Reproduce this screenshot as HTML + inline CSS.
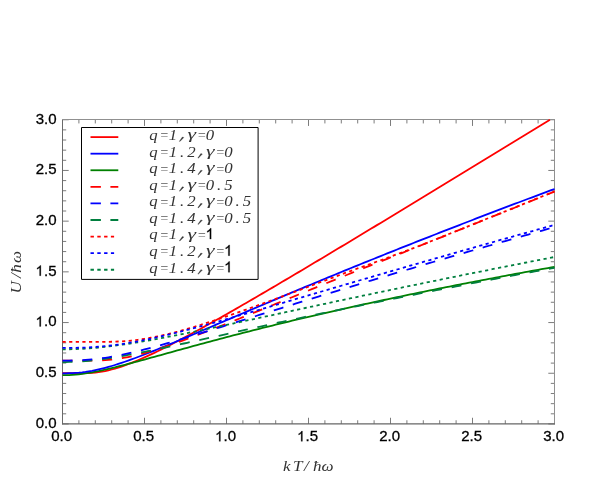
<!DOCTYPE html>
<html><head><meta charset="utf-8"><title>plot</title>
<style>html,body{margin:0;padding:0;background:#fff;}body{width:599px;height:484px;position:relative;overflow:hidden;font-family:"Liberation Sans",sans-serif;}</style>
</head><body>
<svg width="599" height="484" viewBox="0 0 599 484" style="position:absolute;left:0;top:0;will-change:transform">
<defs><clipPath id="c"><rect x="62.00" y="118.25" width="493.30" height="306.20"/></clipPath></defs>
<rect x="0" y="0" width="599" height="484" fill="#fff"/>
<path d="M62.50 423.95 v-6.20 M62.50 119.75 v6.20 M62.50 423.95 h6.20 M554.50 423.95 h-6.20 M78.90 423.95 v-3.70 M78.90 119.75 v3.70 M62.50 413.81 h3.70 M554.50 413.81 h-3.70 M95.30 423.95 v-3.70 M95.30 119.75 v3.70 M62.50 403.67 h3.70 M554.50 403.67 h-3.70 M111.70 423.95 v-3.70 M111.70 119.75 v3.70 M62.50 393.53 h3.70 M554.50 393.53 h-3.70 M128.10 423.95 v-3.70 M128.10 119.75 v3.70 M62.50 383.39 h3.70 M554.50 383.39 h-3.70 M144.50 423.95 v-6.20 M144.50 119.75 v6.20 M62.50 373.25 h6.20 M554.50 373.25 h-6.20 M160.90 423.95 v-3.70 M160.90 119.75 v3.70 M62.50 363.11 h3.70 M554.50 363.11 h-3.70 M177.30 423.95 v-3.70 M177.30 119.75 v3.70 M62.50 352.97 h3.70 M554.50 352.97 h-3.70 M193.70 423.95 v-3.70 M193.70 119.75 v3.70 M62.50 342.83 h3.70 M554.50 342.83 h-3.70 M210.10 423.95 v-3.70 M210.10 119.75 v3.70 M62.50 332.69 h3.70 M554.50 332.69 h-3.70 M226.50 423.95 v-6.20 M226.50 119.75 v6.20 M62.50 322.55 h6.20 M554.50 322.55 h-6.20 M242.90 423.95 v-3.70 M242.90 119.75 v3.70 M62.50 312.41 h3.70 M554.50 312.41 h-3.70 M259.30 423.95 v-3.70 M259.30 119.75 v3.70 M62.50 302.27 h3.70 M554.50 302.27 h-3.70 M275.70 423.95 v-3.70 M275.70 119.75 v3.70 M62.50 292.13 h3.70 M554.50 292.13 h-3.70 M292.10 423.95 v-3.70 M292.10 119.75 v3.70 M62.50 281.99 h3.70 M554.50 281.99 h-3.70 M308.50 423.95 v-6.20 M308.50 119.75 v6.20 M62.50 271.85 h6.20 M554.50 271.85 h-6.20 M324.90 423.95 v-3.70 M324.90 119.75 v3.70 M62.50 261.71 h3.70 M554.50 261.71 h-3.70 M341.30 423.95 v-3.70 M341.30 119.75 v3.70 M62.50 251.57 h3.70 M554.50 251.57 h-3.70 M357.70 423.95 v-3.70 M357.70 119.75 v3.70 M62.50 241.43 h3.70 M554.50 241.43 h-3.70 M374.10 423.95 v-3.70 M374.10 119.75 v3.70 M62.50 231.29 h3.70 M554.50 231.29 h-3.70 M390.50 423.95 v-6.20 M390.50 119.75 v6.20 M62.50 221.15 h6.20 M554.50 221.15 h-6.20 M406.90 423.95 v-3.70 M406.90 119.75 v3.70 M62.50 211.01 h3.70 M554.50 211.01 h-3.70 M423.30 423.95 v-3.70 M423.30 119.75 v3.70 M62.50 200.87 h3.70 M554.50 200.87 h-3.70 M439.70 423.95 v-3.70 M439.70 119.75 v3.70 M62.50 190.73 h3.70 M554.50 190.73 h-3.70 M456.10 423.95 v-3.70 M456.10 119.75 v3.70 M62.50 180.59 h3.70 M554.50 180.59 h-3.70 M472.50 423.95 v-6.20 M472.50 119.75 v6.20 M62.50 170.45 h6.20 M554.50 170.45 h-6.20 M488.90 423.95 v-3.70 M488.90 119.75 v3.70 M62.50 160.31 h3.70 M554.50 160.31 h-3.70 M505.30 423.95 v-3.70 M505.30 119.75 v3.70 M62.50 150.17 h3.70 M554.50 150.17 h-3.70 M521.70 423.95 v-3.70 M521.70 119.75 v3.70 M62.50 140.03 h3.70 M554.50 140.03 h-3.70 M538.10 423.95 v-3.70 M538.10 119.75 v3.70 M62.50 129.89 h3.70 M554.50 129.89 h-3.70 M554.50 423.95 v-6.20 M554.50 119.75 v6.20 M62.50 119.75 h6.20 M554.50 119.75 h-6.20" fill="none" stroke="#5a5a5a" stroke-width="0.8"/>
<path d="M62.5 119 V424.4" fill="none" stroke="#6a6a6a" stroke-width="1"/>
<path d="M554.5 119 V424.4" fill="none" stroke="#909090" stroke-width="1"/>
<path d="M62 119.5 H555" fill="none" stroke="#909090" stroke-width="1"/>
<path d="M62 423.93 H555" fill="none" stroke="#666" stroke-width="1.15"/>
<g clip-path="url(#c)" fill="none" stroke-width="1.8">
<path d="M62.50 373.25 L65.78 373.25 L69.06 373.25 L72.34 373.25 L75.62 373.25 L78.90 373.25 L82.18 373.23 L85.46 373.17 L88.74 373.05 L92.02 372.86 L95.30 372.56 L98.58 372.16 L101.86 371.65 L105.14 371.04 L108.42 370.32 L111.70 369.50 L114.98 368.59 L118.26 367.60 L121.54 366.53 L124.82 365.39 L128.10 364.18 L131.38 362.92 L134.66 361.60 L137.94 360.24 L141.22 358.83 L144.50 357.38 L147.78 355.89 L151.06 354.37 L154.34 352.82 L157.62 351.24 L160.90 349.64 L164.18 348.01 L167.46 346.36 L170.74 344.69 L174.02 343.00 L177.30 341.29 L180.58 339.57 L183.86 337.83 L187.14 336.08 L190.42 334.31 L193.70 332.53 L196.98 330.74 L200.26 328.94 L203.54 327.13 L206.82 325.32 L210.10 323.49 L213.38 321.65 L216.66 319.81 L219.94 317.96 L223.22 316.10 L226.50 314.24 L229.78 312.37 L233.06 310.49 L236.34 308.61 L239.62 306.72 L242.90 304.83 L246.18 302.94 L249.46 301.04 L252.74 299.13 L256.02 297.22 L259.30 295.31 L262.58 293.39 L265.86 291.47 L269.14 289.55 L272.42 287.62 L275.70 285.69 L278.98 283.76 L282.26 281.83 L285.54 279.89 L288.82 277.95 L292.10 276.00 L295.38 274.06 L298.66 272.11 L301.94 270.16 L305.22 268.21 L308.50 266.26 L311.78 264.30 L315.06 262.35 L318.34 260.39 L321.62 258.43 L324.90 256.46 L328.18 254.50 L331.46 252.53 L334.74 250.57 L338.02 248.60 L341.30 246.63 L344.58 244.66 L347.86 242.68 L351.14 240.71 L354.42 238.74 L357.70 236.76 L360.98 234.78 L364.26 232.80 L367.54 230.82 L370.82 228.84 L374.10 226.86 L377.38 224.88 L380.66 222.90 L383.94 220.91 L387.22 218.93 L390.50 216.94 L393.78 214.96 L397.06 212.97 L400.34 210.98 L403.62 208.99 L406.90 207.00 L410.18 205.01 L413.46 203.02 L416.74 201.03 L420.02 199.04 L423.30 197.04 L426.58 195.05 L429.86 193.05 L433.14 191.06 L436.42 189.06 L439.70 187.07 L442.98 185.07 L446.26 183.07 L449.54 181.08 L452.82 179.08 L456.10 177.08 L459.38 175.08 L462.66 173.08 L465.94 171.08 L469.22 169.08 L472.50 167.08 L475.78 165.08 L479.06 163.08 L482.34 161.07 L485.62 159.07 L488.90 157.07 L492.18 155.06 L495.46 153.06 L498.74 151.06 L502.02 149.05 L505.30 147.05 L508.58 145.04 L511.86 143.04 L515.14 141.03 L518.42 139.02 L521.70 137.02 L524.98 135.01 L528.26 133.00 L531.54 131.00 L534.82 128.99 L538.10 126.98 L541.38 124.97 L544.66 122.97 L547.94 120.96 L549.91 119.75" stroke="#ff0000"/>
<path d="M62.50 375.22 L65.78 375.18 L69.06 375.06 L72.34 374.86 L75.62 374.59 L78.90 374.24 L82.18 373.84 L85.46 373.37 L88.74 372.85 L92.02 372.28 L95.30 371.67 L98.58 371.01 L101.86 370.32 L105.14 369.60 L108.42 368.86 L111.70 368.08 L114.98 367.29 L118.26 366.48 L121.54 365.65 L124.82 364.80 L128.10 363.95 L131.38 363.08 L134.66 362.20 L137.94 361.32 L141.22 360.43 L144.50 359.54 L147.78 358.64 L151.06 357.73 L154.34 356.83 L157.62 355.92 L160.90 355.01 L164.18 354.10 L167.46 353.20 L170.74 352.29 L174.02 351.38 L177.30 350.47 L180.58 349.57 L183.86 348.67 L187.14 347.77 L190.42 346.87 L193.70 345.97 L196.98 345.08 L200.26 344.19 L203.54 343.31 L206.82 342.42 L210.10 341.54 L213.38 340.67 L216.66 339.79 L219.94 338.92 L223.22 338.06 L226.50 337.19 L229.78 336.34 L233.06 335.48 L236.34 334.63 L239.62 333.78 L242.90 332.94 L246.18 332.10 L249.46 331.26 L252.74 330.43 L256.02 329.60 L259.30 328.78 L262.58 327.95 L265.86 327.14 L269.14 326.32 L272.42 325.51 L275.70 324.71 L278.98 323.90 L282.26 323.11 L285.54 322.31 L288.82 321.52 L292.10 320.73 L295.38 319.95 L298.66 319.17 L301.94 318.39 L305.22 317.61 L308.50 316.84 L311.78 316.08 L315.06 315.31 L318.34 314.55 L321.62 313.80 L324.90 313.04 L328.18 312.29 L331.46 311.54 L334.74 310.80 L338.02 310.06 L341.30 309.32 L344.58 308.59 L347.86 307.85 L351.14 307.12 L354.42 306.40 L357.70 305.68 L360.98 304.96 L364.26 304.24 L367.54 303.52 L370.82 302.81 L374.10 302.10 L377.38 301.40 L380.66 300.70 L383.94 300.00 L387.22 299.30 L390.50 298.60 L393.78 297.91 L397.06 297.22 L400.34 296.53 L403.62 295.85 L406.90 295.17 L410.18 294.49 L413.46 293.81 L416.74 293.14 L420.02 292.47 L423.30 291.80 L426.58 291.13 L429.86 290.47 L433.14 289.81 L436.42 289.15 L439.70 288.49 L442.98 287.84 L446.26 287.19 L449.54 286.54 L452.82 285.89 L456.10 285.24 L459.38 284.60 L462.66 283.96 L465.94 283.32 L469.22 282.69 L472.50 282.05 L475.78 281.42 L479.06 280.79 L482.34 280.16 L485.62 279.54 L488.90 278.92 L492.18 278.30 L495.46 277.68 L498.74 277.06 L502.02 276.45 L505.30 275.83 L508.58 275.22 L511.86 274.61 L515.14 274.01 L518.42 273.40 L521.70 272.80 L524.98 272.20 L528.26 271.60 L531.54 271.00 L534.82 270.41 L538.10 269.82 L541.38 269.23 L544.66 268.64 L547.94 268.05 L551.22 267.46 L554.50 266.88" stroke="#008000"/>
<path d="M62.50 373.30 L65.78 373.28 L69.06 373.22 L72.34 373.11 L75.62 372.92 L78.90 372.67 L82.18 372.33 L85.46 371.91 L88.74 371.41 L92.02 370.84 L95.30 370.19 L98.58 369.47 L101.86 368.68 L105.14 367.84 L108.42 366.94 L111.70 365.99 L114.98 364.99 L118.26 363.95 L121.54 362.87 L124.82 361.75 L128.10 360.60 L131.38 359.43 L134.66 358.23 L137.94 357.00 L141.22 355.76 L144.50 354.49 L147.78 353.21 L151.06 351.91 L154.34 350.60 L157.62 349.28 L160.90 347.95 L164.18 346.60 L167.46 345.25 L170.74 343.89 L174.02 342.53 L177.30 341.15 L180.58 339.78 L183.86 338.39 L187.14 337.01 L190.42 335.62 L193.70 334.22 L196.98 332.83 L200.26 331.43 L203.54 330.03 L206.82 328.63 L210.10 327.23 L213.38 325.83 L216.66 324.43 L219.94 323.03 L223.22 321.63 L226.50 320.22 L229.78 318.82 L233.06 317.42 L236.34 316.02 L239.62 314.62 L242.90 313.22 L246.18 311.82 L249.46 310.43 L252.74 309.03 L256.02 307.64 L259.30 306.25 L262.58 304.86 L265.86 303.47 L269.14 302.08 L272.42 300.69 L275.70 299.31 L278.98 297.93 L282.26 296.55 L285.54 295.17 L288.82 293.79 L292.10 292.42 L295.38 291.04 L298.66 289.67 L301.94 288.31 L305.22 286.94 L308.50 285.57 L311.78 284.21 L315.06 282.85 L318.34 281.49 L321.62 280.14 L324.90 278.78 L328.18 277.43 L331.46 276.08 L334.74 274.73 L338.02 273.39 L341.30 272.04 L344.58 270.70 L347.86 269.36 L351.14 268.02 L354.42 266.69 L357.70 265.35 L360.98 264.02 L364.26 262.69 L367.54 261.37 L370.82 260.04 L374.10 258.72 L377.38 257.40 L380.66 256.08 L383.94 254.76 L387.22 253.45 L390.50 252.14 L393.78 250.83 L397.06 249.52 L400.34 248.21 L403.62 246.91 L406.90 245.61 L410.18 244.31 L413.46 243.01 L416.74 241.71 L420.02 240.42 L423.30 239.12 L426.58 237.83 L429.86 236.55 L433.14 235.26 L436.42 233.98 L439.70 232.69 L442.98 231.41 L446.26 230.13 L449.54 228.86 L452.82 227.58 L456.10 226.31 L459.38 225.04 L462.66 223.77 L465.94 222.50 L469.22 221.24 L472.50 219.97 L475.78 218.71 L479.06 217.45 L482.34 216.19 L485.62 214.94 L488.90 213.68 L492.18 212.43 L495.46 211.18 L498.74 209.93 L502.02 208.68 L505.30 207.44 L508.58 206.19 L511.86 204.95 L515.14 203.71 L518.42 202.47 L521.70 201.24 L524.98 200.00 L528.26 198.77 L531.54 197.54 L534.82 196.31 L538.10 195.08 L541.38 193.85 L544.66 192.63 L547.94 191.41 L551.22 190.19 L554.50 188.97" stroke="#0000ff"/>
<path d="M62.50 360.57 L65.78 360.57 L69.06 360.57 L72.34 360.57 L75.62 360.57 L78.90 360.57 L82.18 360.57 L85.46 360.57 L88.74 360.56 L92.02 360.54 L95.30 360.49 L98.58 360.41 L101.86 360.28 L105.14 360.10 L108.42 359.86 L111.70 359.55 L114.98 359.18 L118.26 358.74 L121.54 358.23 L124.82 357.66 L128.10 357.03 L131.38 356.33 L134.66 355.59 L137.94 354.79 L141.22 353.94 L144.50 353.06 L147.78 352.13 L151.06 351.16 L154.34 350.17 L157.62 349.14 L160.90 348.09 L164.18 347.00 L167.46 345.90 L170.74 344.78 L174.02 343.63 L177.30 342.47 L180.58 341.29 L183.86 340.10 L187.14 338.90 L190.42 337.68 L193.70 336.45 L196.98 335.21 L200.26 333.96 L203.54 332.71 L206.82 331.44 L210.10 330.17 L213.38 328.89 L216.66 327.61 L219.94 326.32 L223.22 325.02 L226.50 323.73 L229.78 322.42 L233.06 321.11 L236.34 319.80 L239.62 318.49 L242.90 317.17 L246.18 315.85 L249.46 314.53 L252.74 313.21 L256.02 311.88 L259.30 310.55 L262.58 309.22 L265.86 307.89 L269.14 306.56 L272.42 305.23 L275.70 303.89 L278.98 302.56 L282.26 301.22 L285.54 299.88 L288.82 298.55 L292.10 297.21 L295.38 295.87 L298.66 294.53 L301.94 293.19 L305.22 291.85 L308.50 290.51 L311.78 289.17 L315.06 287.83 L318.34 286.49 L321.62 285.15 L324.90 283.81 L328.18 282.47 L331.46 281.14 L334.74 279.81 L338.02 278.48 L341.30 277.15 L344.58 275.83 L347.86 274.51 L351.14 273.19 L354.42 271.88 L357.70 270.57 L360.98 269.26 L364.26 267.95 L367.54 266.64 L370.82 265.33 L374.10 264.03 L377.38 262.72 L380.66 261.42 L383.94 260.12 L387.22 258.81 L390.50 257.51 L393.78 256.21 L397.06 254.91 L400.34 253.61 L403.62 252.30 L406.90 251.00 L410.18 249.69 L413.46 248.39 L416.74 247.08 L420.02 245.77 L423.30 244.46 L426.58 243.15 L429.86 241.84 L433.14 240.52 L436.42 239.20 L439.70 237.88 L442.98 236.56 L446.26 235.24 L449.54 233.92 L452.82 232.59 L456.10 231.27 L459.38 229.95 L462.66 228.63 L465.94 227.31 L469.22 225.99 L472.50 224.67 L475.78 223.35 L479.06 222.02 L482.34 220.70 L485.62 219.38 L488.90 218.06 L492.18 216.74 L495.46 215.42 L498.74 214.10 L502.02 212.77 L505.30 211.45 L508.58 210.13 L511.86 208.81 L515.14 207.49 L518.42 206.16 L521.70 204.84 L524.98 203.52 L528.26 202.19 L531.54 200.87 L534.82 199.54 L538.10 198.22 L541.38 196.89 L544.66 195.57 L547.94 194.24 L551.22 192.92 L554.50 191.59" stroke="#ff0000" stroke-dasharray="10 9.83"/>
<path d="M62.50 362.05 L65.78 362.03 L69.06 361.97 L72.34 361.86 L75.62 361.71 L78.90 361.53 L82.18 361.30 L85.46 361.03 L88.74 360.73 L92.02 360.39 L95.30 360.02 L98.58 359.62 L101.86 359.20 L105.14 358.74 L108.42 358.27 L111.70 357.76 L114.98 357.24 L118.26 356.70 L121.54 356.14 L124.82 355.57 L128.10 354.97 L131.38 354.37 L134.66 353.75 L137.94 353.12 L141.22 352.48 L144.50 351.83 L147.78 351.16 L151.06 350.50 L154.34 349.82 L157.62 349.14 L160.90 348.45 L164.18 347.75 L167.46 347.05 L170.74 346.35 L174.02 345.64 L177.30 344.93 L180.58 344.22 L183.86 343.50 L187.14 342.78 L190.42 342.06 L193.70 341.33 L196.98 340.61 L200.26 339.88 L203.54 339.15 L206.82 338.42 L210.10 337.70 L213.38 336.97 L216.66 336.24 L219.94 335.51 L223.22 334.78 L226.50 334.05 L229.78 333.32 L233.06 332.59 L236.34 331.86 L239.62 331.13 L242.90 330.40 L246.18 329.68 L249.46 328.95 L252.74 328.22 L256.02 327.50 L259.30 326.78 L262.58 326.06 L265.86 325.34 L269.14 324.62 L272.42 323.91 L275.70 323.19 L278.98 322.48 L282.26 321.78 L285.54 321.07 L288.82 320.37 L292.10 319.67 L295.38 318.97 L298.66 318.27 L301.94 317.58 L305.22 316.89 L308.50 316.20 L311.78 315.51 L315.06 314.82 L318.34 314.13 L321.62 313.45 L324.90 312.77 L328.18 312.09 L331.46 311.41 L334.74 310.73 L338.02 310.06 L341.30 309.38 L344.58 308.71 L347.86 308.03 L351.14 307.36 L354.42 306.69 L357.70 306.02 L360.98 305.36 L364.26 304.69 L367.54 304.02 L370.82 303.36 L374.10 302.69 L377.38 302.03 L380.66 301.36 L383.94 300.70 L387.22 300.04 L390.50 299.37 L393.78 298.71 L397.06 298.05 L400.34 297.39 L403.62 296.73 L406.90 296.08 L410.18 295.42 L413.46 294.77 L416.74 294.11 L420.02 293.46 L423.30 292.81 L426.58 292.16 L429.86 291.52 L433.14 290.87 L436.42 290.23 L439.70 289.58 L442.98 288.94 L446.26 288.30 L449.54 287.66 L452.82 287.02 L456.10 286.38 L459.38 285.75 L462.66 285.11 L465.94 284.48 L469.22 283.85 L472.50 283.21 L475.78 282.58 L479.06 281.95 L482.34 281.33 L485.62 280.70 L488.90 280.07 L492.18 279.45 L495.46 278.82 L498.74 278.20 L502.02 277.58 L505.30 276.96 L508.58 276.34 L511.86 275.72 L515.14 275.11 L518.42 274.49 L521.70 273.87 L524.98 273.26 L528.26 272.65 L531.54 272.03 L534.82 271.42 L538.10 270.81 L541.38 270.20 L544.66 269.59 L547.94 268.99 L551.22 268.38 L554.50 267.77" stroke="#007f3f" stroke-dasharray="10 9.83"/>
<path d="M62.50 360.60 L65.78 360.60 L69.06 360.57 L72.34 360.52 L75.62 360.44 L78.90 360.32 L82.18 360.16 L85.46 359.96 L88.74 359.71 L92.02 359.42 L95.30 359.08 L98.58 358.69 L101.86 358.26 L105.14 357.79 L108.42 357.27 L111.70 356.72 L114.98 356.12 L118.26 355.50 L121.54 354.84 L124.82 354.14 L128.10 353.42 L131.38 352.68 L134.66 351.90 L137.94 351.11 L141.22 350.29 L144.50 349.45 L147.78 348.60 L151.06 347.73 L154.34 346.84 L157.62 345.94 L160.90 345.03 L164.18 344.10 L167.46 343.16 L170.74 342.22 L174.02 341.26 L177.30 340.30 L180.58 339.32 L183.86 338.35 L187.14 337.36 L190.42 336.37 L193.70 335.38 L196.98 334.38 L200.26 333.37 L203.54 332.37 L206.82 331.36 L210.10 330.34 L213.38 329.33 L216.66 328.31 L219.94 327.29 L223.22 326.27 L226.50 325.24 L229.78 324.22 L233.06 323.19 L236.34 322.17 L239.62 321.14 L242.90 320.11 L246.18 319.09 L249.46 318.06 L252.74 317.03 L256.02 316.00 L259.30 314.98 L262.58 313.95 L265.86 312.92 L269.14 311.90 L272.42 310.87 L275.70 309.85 L278.98 308.82 L282.26 307.80 L285.54 306.78 L288.82 305.75 L292.10 304.73 L295.38 303.71 L298.66 302.69 L301.94 301.68 L305.22 300.66 L308.50 299.64 L311.78 298.63 L315.06 297.62 L318.34 296.60 L321.62 295.59 L324.90 294.58 L328.18 293.57 L331.46 292.57 L334.74 291.56 L338.02 290.55 L341.30 289.55 L344.58 288.55 L347.86 287.55 L351.14 286.55 L354.42 285.55 L357.70 284.55 L360.98 283.56 L364.26 282.56 L367.54 281.57 L370.82 280.58 L374.10 279.59 L377.38 278.60 L380.66 277.61 L383.94 276.63 L387.22 275.64 L390.50 274.66 L393.78 273.68 L397.06 272.70 L400.34 271.72 L403.62 270.74 L406.90 269.76 L410.18 268.79 L413.46 267.81 L416.74 266.84 L420.02 265.87 L423.30 264.90 L426.58 263.93 L429.86 262.96 L433.14 262.00 L436.42 261.03 L439.70 260.07 L442.98 259.10 L446.26 258.14 L449.54 257.18 L452.82 256.22 L456.10 255.27 L459.38 254.31 L462.66 253.36 L465.94 252.40 L469.22 251.45 L472.50 250.50 L475.78 249.55 L479.06 248.60 L482.34 247.65 L485.62 246.71 L488.90 245.76 L492.18 244.82 L495.46 243.87 L498.74 242.93 L502.02 241.99 L505.30 241.05 L508.58 240.11 L511.86 239.18 L515.14 238.24 L518.42 237.31 L521.70 236.37 L524.98 235.44 L528.26 234.51 L531.54 233.58 L534.82 232.65 L538.10 231.72 L541.38 230.79 L544.66 229.87 L547.94 228.94 L551.22 228.02 L554.50 227.10" stroke="#0000ff" stroke-dasharray="10 9.83"/>
<path d="M62.50 341.92 L65.78 341.92 L69.06 341.92 L72.34 341.92 L75.62 341.92 L78.90 341.92 L82.18 341.92 L85.46 341.92 L88.74 341.92 L92.02 341.91 L95.30 341.91 L98.58 341.90 L101.86 341.88 L105.14 341.85 L108.42 341.80 L111.70 341.73 L114.98 341.63 L118.26 341.49 L121.54 341.32 L124.82 341.10 L128.10 340.84 L131.38 340.54 L134.66 340.18 L137.94 339.78 L141.22 339.33 L144.50 338.84 L147.78 338.30 L151.06 337.71 L154.34 337.09 L157.62 336.42 L160.90 335.72 L164.18 334.98 L167.46 334.20 L170.74 333.40 L174.02 332.56 L177.30 331.70 L180.58 330.80 L183.86 329.89 L187.14 328.95 L190.42 327.99 L193.70 327.01 L196.98 326.01 L200.26 325.00 L203.54 323.97 L206.82 322.92 L210.10 321.86 L213.38 320.79 L216.66 319.70 L219.94 318.61 L223.22 317.50 L226.50 316.39 L229.78 315.26 L233.06 314.13 L236.34 312.99 L239.62 311.84 L242.90 310.69 L246.18 309.53 L249.46 308.36 L252.74 307.19 L256.02 306.01 L259.30 304.83 L262.58 303.64 L265.86 302.45 L269.14 301.26 L272.42 300.06 L275.70 298.86 L278.98 297.65 L282.26 296.44 L285.54 295.23 L288.82 294.02 L292.10 292.81 L295.38 291.59 L298.66 290.37 L301.94 289.15 L305.22 287.92 L308.50 286.70 L311.78 285.47 L315.06 284.24 L318.34 283.02 L321.62 281.78 L324.90 280.55 L328.18 279.32 L331.46 278.09 L334.74 276.87 L338.02 275.64 L341.30 274.42 L344.58 273.20 L347.86 272.00 L351.14 270.81 L354.42 269.62 L357.70 268.44 L360.98 267.27 L364.26 266.10 L367.54 264.93 L370.82 263.75 L374.10 262.58 L377.38 261.41 L380.66 260.23 L383.94 259.04 L387.22 257.85 L390.50 256.66 L393.78 255.46 L397.06 254.24 L400.34 253.03 L403.62 251.80 L406.90 250.56 L410.18 249.32 L413.46 248.07 L416.74 246.80 L420.02 245.53 L423.30 244.25 L426.58 242.97 L429.86 241.67 L433.14 240.37 L436.42 239.05 L439.70 237.74 L442.98 236.42 L446.26 235.09 L449.54 233.77 L452.82 232.44 L456.10 231.12 L459.38 229.80 L462.66 228.48 L465.94 227.16 L469.22 225.84 L472.50 224.51 L475.78 223.19 L479.06 221.87 L482.34 220.55 L485.62 219.23 L488.90 217.91 L492.18 216.59 L495.46 215.27 L498.74 213.94 L502.02 212.62 L505.30 211.30 L508.58 209.98 L511.86 208.66 L515.14 207.33 L518.42 206.01 L521.70 204.69 L524.98 203.36 L528.26 202.04 L531.54 200.72 L534.82 199.39 L538.10 198.07 L541.38 196.74 L544.66 195.42 L547.94 194.09 L551.22 192.76 L554.50 191.44" stroke="#ff0000" stroke-dasharray="3.2 3.42"/>
<path d="M62.50 349.31 L65.78 349.29 L69.06 349.25 L72.34 349.17 L75.62 349.07 L78.90 348.93 L82.18 348.76 L85.46 348.57 L88.74 348.35 L92.02 348.09 L95.30 347.82 L98.58 347.51 L101.86 347.18 L105.14 346.83 L108.42 346.46 L111.70 346.06 L114.98 345.65 L118.26 345.21 L121.54 344.76 L124.82 344.29 L128.10 343.80 L131.38 343.29 L134.66 342.78 L137.94 342.24 L141.22 341.70 L144.50 341.14 L147.78 340.58 L151.06 340.00 L154.34 339.41 L157.62 338.81 L160.90 338.20 L164.18 337.59 L167.46 336.96 L170.74 336.33 L174.02 335.70 L177.30 335.06 L180.58 334.41 L183.86 333.75 L187.14 333.09 L190.42 332.43 L193.70 331.76 L196.98 331.09 L200.26 330.41 L203.54 329.74 L206.82 329.05 L210.10 328.37 L213.38 327.68 L216.66 326.99 L219.94 326.30 L223.22 325.60 L226.50 324.91 L229.78 324.21 L233.06 323.51 L236.34 322.81 L239.62 322.11 L242.90 321.41 L246.18 320.71 L249.46 320.00 L252.74 319.30 L256.02 318.59 L259.30 317.89 L262.58 317.18 L265.86 316.47 L269.14 315.77 L272.42 315.06 L275.70 314.35 L278.98 313.65 L282.26 312.94 L285.54 312.23 L288.82 311.53 L292.10 310.82 L295.38 310.12 L298.66 309.41 L301.94 308.71 L305.22 308.00 L308.50 307.30 L311.78 306.60 L315.06 305.89 L318.34 305.19 L321.62 304.49 L324.90 303.79 L328.18 303.09 L331.46 302.39 L334.74 301.69 L338.02 300.99 L341.30 300.30 L344.58 299.60 L347.86 298.91 L351.14 298.21 L354.42 297.52 L357.70 296.82 L360.98 296.13 L364.26 295.44 L367.54 294.75 L370.82 294.06 L374.10 293.37 L377.38 292.69 L380.66 292.00 L383.94 291.31 L387.22 290.63 L390.50 289.95 L393.78 289.26 L397.06 288.58 L400.34 287.90 L403.62 287.22 L406.90 286.54 L410.18 285.87 L413.46 285.19 L416.74 284.51 L420.02 283.84 L423.30 283.16 L426.58 282.49 L429.86 281.82 L433.14 281.15 L436.42 280.48 L439.70 279.81 L442.98 279.14 L446.26 278.47 L449.54 277.81 L452.82 277.14 L456.10 276.48 L459.38 275.81 L462.66 275.15 L465.94 274.49 L469.22 273.83 L472.50 273.17 L475.78 272.51 L479.06 271.85 L482.34 271.20 L485.62 270.54 L488.90 269.89 L492.18 269.23 L495.46 268.58 L498.74 267.93 L502.02 267.28 L505.30 266.63 L508.58 265.98 L511.86 265.33 L515.14 264.68 L518.42 264.04 L521.70 263.39 L524.98 262.75 L528.26 262.10 L531.54 261.46 L534.82 260.82 L538.10 260.18 L541.38 259.54 L544.66 258.90 L547.94 258.26 L551.22 257.62 L554.50 256.99" stroke="#007f3f" stroke-dasharray="3.2 3.42"/>
<path d="M62.50 347.92 L65.78 347.92 L69.06 347.90 L72.34 347.88 L75.62 347.83 L78.90 347.76 L82.18 347.66 L85.46 347.54 L88.74 347.39 L92.02 347.21 L95.30 346.99 L98.58 346.74 L101.86 346.46 L105.14 346.14 L108.42 345.79 L111.70 345.41 L114.98 344.99 L118.26 344.55 L121.54 344.07 L124.82 343.56 L128.10 343.03 L131.38 342.47 L134.66 341.88 L137.94 341.27 L141.22 340.63 L144.50 339.98 L147.78 339.30 L151.06 338.60 L154.34 337.88 L157.62 337.15 L160.90 336.40 L164.18 335.64 L167.46 334.86 L170.74 334.06 L174.02 333.25 L177.30 332.44 L180.58 331.61 L183.86 330.77 L187.14 329.92 L190.42 329.06 L193.70 328.19 L196.98 327.31 L200.26 326.43 L203.54 325.54 L206.82 324.65 L210.10 323.74 L213.38 322.84 L216.66 321.92 L219.94 321.01 L223.22 320.08 L226.50 319.16 L229.78 318.23 L233.06 317.30 L236.34 316.36 L239.62 315.42 L242.90 314.48 L246.18 313.54 L249.46 312.59 L252.74 311.64 L256.02 310.69 L259.30 309.74 L262.58 308.79 L265.86 307.83 L269.14 306.88 L272.42 305.92 L275.70 304.96 L278.98 304.00 L282.26 303.04 L285.54 302.08 L288.82 301.12 L292.10 300.16 L295.38 299.20 L298.66 298.24 L301.94 297.28 L305.22 296.31 L308.50 295.35 L311.78 294.39 L315.06 293.43 L318.34 292.46 L321.62 291.50 L324.90 290.54 L328.18 289.58 L331.46 288.62 L334.74 287.66 L338.02 286.70 L341.30 285.74 L344.58 284.78 L347.86 283.82 L351.14 282.86 L354.42 281.90 L357.70 280.94 L360.98 279.99 L364.26 279.03 L367.54 278.08 L370.82 277.12 L374.10 276.17 L377.38 275.21 L380.66 274.26 L383.94 273.31 L387.22 272.35 L390.50 271.40 L393.78 270.45 L397.06 269.50 L400.34 268.55 L403.62 267.61 L406.90 266.66 L410.18 265.71 L413.46 264.77 L416.74 263.82 L420.02 262.88 L423.30 261.94 L426.58 260.99 L429.86 260.05 L433.14 259.11 L436.42 258.17 L439.70 257.23 L442.98 256.29 L446.26 255.36 L449.54 254.42 L452.82 253.48 L456.10 252.55 L459.38 251.61 L462.66 250.68 L465.94 249.75 L469.22 248.82 L472.50 247.88 L475.78 246.95 L479.06 246.03 L482.34 245.10 L485.62 244.17 L488.90 243.24 L492.18 242.32 L495.46 241.39 L498.74 240.47 L502.02 239.54 L505.30 238.62 L508.58 237.70 L511.86 236.78 L515.14 235.86 L518.42 234.94 L521.70 234.02 L524.98 233.10 L528.26 232.19 L531.54 231.27 L534.82 230.36 L538.10 229.44 L541.38 228.53 L544.66 227.61 L547.94 226.70 L551.22 225.79 L554.50 224.88" stroke="#0000ff" stroke-dasharray="3.2 3.42"/>
</g>
<g font-family="Liberation Sans, sans-serif" font-size="15.35" fill="#000" stroke="#000" stroke-width="0.3">
<text transform="translate(51.19 441.35) scale(0.98 1)">0.0</text>
<text transform="translate(35.64 427.80) scale(0.98 1)">0.0</text>
<text transform="translate(133.19 441.35) scale(0.98 1)">0.5</text>
<text transform="translate(35.64 377.10) scale(0.98 1)">0.5</text>
<path d="M220.40 441.35 L219.15 441.35 L219.15 433.37 Q218.70 433.80 217.96 434.23 Q217.23 434.66 216.65 434.88 L216.65 433.67 Q217.70 433.17 218.48 432.47 Q219.27 431.77 219.60 431.11 L220.40 431.11 Z" fill="#000" stroke="#000" stroke-width="0.25"/>
<text transform="translate(223.56 441.35) scale(0.98 1)">.0</text>
<path d="M40.85 326.40 L39.60 326.40 L39.60 318.42 Q39.14 318.85 38.41 319.28 Q37.67 319.71 37.09 319.93 L37.09 318.72 Q38.14 318.22 38.93 317.52 Q39.71 316.82 40.04 316.16 L40.85 316.16 Z" fill="#000" stroke="#000" stroke-width="0.25"/>
<text transform="translate(44.01 326.40) scale(0.98 1)">.0</text>
<path d="M302.40 441.35 L301.15 441.35 L301.15 433.37 Q300.70 433.80 299.96 434.23 Q299.23 434.66 298.65 434.88 L298.65 433.67 Q299.70 433.17 300.48 432.47 Q301.27 431.77 301.60 431.11 L302.40 431.11 Z" fill="#000" stroke="#000" stroke-width="0.25"/>
<text transform="translate(305.56 441.35) scale(0.98 1)">.5</text>
<path d="M40.85 275.70 L39.60 275.70 L39.60 267.72 Q39.14 268.15 38.41 268.58 Q37.67 269.01 37.09 269.23 L37.09 268.02 Q38.14 267.52 38.93 266.82 Q39.71 266.12 40.04 265.46 L40.85 265.46 Z" fill="#000" stroke="#000" stroke-width="0.25"/>
<text transform="translate(44.01 275.70) scale(0.98 1)">.5</text>
<text transform="translate(379.19 441.35) scale(0.98 1)">2.0</text>
<text transform="translate(35.64 225.00) scale(0.98 1)">2.0</text>
<text transform="translate(461.19 441.35) scale(0.98 1)">2.5</text>
<text transform="translate(35.64 174.30) scale(0.98 1)">2.5</text>
<text transform="translate(543.19 441.35) scale(0.98 1)">3.0</text>
<text transform="translate(35.64 123.60) scale(0.98 1)">3.0</text>
</g>
<text transform="scale(1.1 1)" x="260.64 270.64 278.55 288.36 297.82" y="470.8" text-anchor="middle" font-size="15.5" fill="#333" font-style="italic" font-family="Liberation Serif, serif">kT/ħω</text>
<text transform="rotate(-90) scale(1.1 1)" x="-261.27 -250.55 -244.00 -233.55" y="20.6" text-anchor="middle" font-size="15.5" fill="#333" font-style="italic" font-family="Liberation Serif, serif">U/ħω</text>
<path d="M81.5 127.5 H258.1 V279.4 H81.5 Z" fill="#fff" stroke="#000" stroke-width="1"/>
<path d="M90.5 137.10 H118.30" stroke="#ff0000" stroke-width="1.8" fill="none"/>
<text transform="scale(1.12 1)" x="137.10 154.33 187.37" y="140.00" font-size="15" fill="#333" text-anchor="middle" font-family="Liberation Serif, serif" font-style="italic">q10</text>
<text transform="scale(1.45 1)" x="132.28" y="139.10" font-size="15" fill="#333" text-anchor="middle" font-family="Liberation Serif, serif" font-style="italic">γ</text>
<text x="164.25 201.85" y="140.40" font-size="14" fill="#5a5a5a" text-anchor="middle" font-family="Liberation Serif, serif" font-style="italic">==</text>
<path d="M182.35 137.00 L183.85 137.45 L179.85 141.60 L179.35 141.30 Z" fill="#333" stroke="#333" stroke-width="0.3" stroke-linejoin="round"/>
<path d="M90.5 153.68 H118.30" stroke="#0000ff" stroke-width="1.8" fill="none"/>
<text transform="scale(1.12 1)" x="137.10 154.33 162.59 170.85 203.88" y="156.58" font-size="15" fill="#333" text-anchor="middle" font-family="Liberation Serif, serif" font-style="italic">q1.20</text>
<text transform="scale(1.45 1)" x="145.03" y="155.68" font-size="15" fill="#333" text-anchor="middle" font-family="Liberation Serif, serif" font-style="italic">γ</text>
<text x="164.25 220.35" y="156.98" font-size="14" fill="#5a5a5a" text-anchor="middle" font-family="Liberation Serif, serif" font-style="italic">==</text>
<path d="M200.85 153.58 L202.35 154.03 L198.35 158.18 L197.85 157.88 Z" fill="#333" stroke="#333" stroke-width="0.3" stroke-linejoin="round"/>
<path d="M90.5 170.26 H118.30" stroke="#008000" stroke-width="1.8" fill="none"/>
<text transform="scale(1.12 1)" x="137.10 154.33 162.59 170.85 203.88" y="173.16" font-size="15" fill="#333" text-anchor="middle" font-family="Liberation Serif, serif" font-style="italic">q1.40</text>
<text transform="scale(1.45 1)" x="145.03" y="172.26" font-size="15" fill="#333" text-anchor="middle" font-family="Liberation Serif, serif" font-style="italic">γ</text>
<text x="164.25 220.35" y="173.56" font-size="14" fill="#5a5a5a" text-anchor="middle" font-family="Liberation Serif, serif" font-style="italic">==</text>
<path d="M200.85 170.16 L202.35 170.61 L198.35 174.76 L197.85 174.46 Z" fill="#333" stroke="#333" stroke-width="0.3" stroke-linejoin="round"/>
<path d="M90.5 186.84 H118.30" stroke="#ff0000" stroke-width="1.8" fill="none" stroke-dasharray="10.4 9.5"/>
<text transform="scale(1.12 1)" x="137.10 154.33 187.37 195.62 203.88" y="189.74" font-size="15" fill="#333" text-anchor="middle" font-family="Liberation Serif, serif" font-style="italic">q10.5</text>
<text transform="scale(1.45 1)" x="132.28" y="188.84" font-size="15" fill="#333" text-anchor="middle" font-family="Liberation Serif, serif" font-style="italic">γ</text>
<text x="164.25 201.85" y="190.14" font-size="14" fill="#5a5a5a" text-anchor="middle" font-family="Liberation Serif, serif" font-style="italic">==</text>
<path d="M182.35 186.74 L183.85 187.19 L179.85 191.34 L179.35 191.04 Z" fill="#333" stroke="#333" stroke-width="0.3" stroke-linejoin="round"/>
<path d="M90.5 203.42 H118.30" stroke="#0000ff" stroke-width="1.8" fill="none" stroke-dasharray="10.4 9.5"/>
<text transform="scale(1.12 1)" x="137.10 154.33 162.59 170.85 203.88 212.14 220.40" y="206.32" font-size="15" fill="#333" text-anchor="middle" font-family="Liberation Serif, serif" font-style="italic">q1.20.5</text>
<text transform="scale(1.45 1)" x="145.03" y="205.42" font-size="15" fill="#333" text-anchor="middle" font-family="Liberation Serif, serif" font-style="italic">γ</text>
<text x="164.25 220.35" y="206.72" font-size="14" fill="#5a5a5a" text-anchor="middle" font-family="Liberation Serif, serif" font-style="italic">==</text>
<path d="M200.85 203.32 L202.35 203.77 L198.35 207.92 L197.85 207.62 Z" fill="#333" stroke="#333" stroke-width="0.3" stroke-linejoin="round"/>
<path d="M90.5 220.00 H118.30" stroke="#007f3f" stroke-width="1.8" fill="none" stroke-dasharray="10.4 9.5"/>
<text transform="scale(1.12 1)" x="137.10 154.33 162.59 170.85 203.88 212.14 220.40" y="222.90" font-size="15" fill="#333" text-anchor="middle" font-family="Liberation Serif, serif" font-style="italic">q1.40.5</text>
<text transform="scale(1.45 1)" x="145.03" y="222.00" font-size="15" fill="#333" text-anchor="middle" font-family="Liberation Serif, serif" font-style="italic">γ</text>
<text x="164.25 220.35" y="223.30" font-size="14" fill="#5a5a5a" text-anchor="middle" font-family="Liberation Serif, serif" font-style="italic">==</text>
<path d="M200.85 219.90 L202.35 220.35 L198.35 224.50 L197.85 224.20 Z" fill="#333" stroke="#333" stroke-width="0.3" stroke-linejoin="round"/>
<path d="M90.5 236.58 H114.10" stroke="#ff0000" stroke-width="1.8" fill="none" stroke-dasharray="3.4 3.4"/>
<text transform="scale(1.12 1)" x="137.10 154.33" y="239.48" font-size="15" fill="#333" text-anchor="middle" font-family="Liberation Serif, serif" font-style="italic">q1</text>
<text transform="scale(1.45 1)" x="132.28" y="238.58" font-size="15" fill="#333" text-anchor="middle" font-family="Liberation Serif, serif" font-style="italic">γ</text>
<text x="164.25 201.85" y="239.88" font-size="14" fill="#5a5a5a" text-anchor="middle" font-family="Liberation Serif, serif" font-style="italic">==</text>
<path d="M182.35 236.48 L183.85 236.93 L179.85 241.08 L179.35 240.78 Z" fill="#333" stroke="#333" stroke-width="0.3" stroke-linejoin="round"/>
<path d="M211.15 239.08 L209.84 239.08 L209.84 230.74 Q209.37 231.19 208.60 231.64 Q207.83 232.09 207.22 232.31 L207.22 231.05 Q208.32 230.53 209.14 229.80 Q209.97 229.06 210.31 228.37 L211.15 228.37 Z" fill="#000" stroke="#000" stroke-width="0.25"/>
<path d="M90.5 253.16 H114.10" stroke="#0000ff" stroke-width="1.8" fill="none" stroke-dasharray="3.4 3.4"/>
<text transform="scale(1.12 1)" x="137.10 154.33 162.59 170.85" y="256.06" font-size="15" fill="#333" text-anchor="middle" font-family="Liberation Serif, serif" font-style="italic">q1.2</text>
<text transform="scale(1.45 1)" x="145.03" y="255.16" font-size="15" fill="#333" text-anchor="middle" font-family="Liberation Serif, serif" font-style="italic">γ</text>
<text x="164.25 220.35" y="256.46" font-size="14" fill="#5a5a5a" text-anchor="middle" font-family="Liberation Serif, serif" font-style="italic">==</text>
<path d="M200.85 253.06 L202.35 253.51 L198.35 257.66 L197.85 257.36 Z" fill="#333" stroke="#333" stroke-width="0.3" stroke-linejoin="round"/>
<path d="M229.65 255.66 L228.34 255.66 L228.34 247.32 Q227.87 247.77 227.10 248.22 Q226.33 248.67 225.72 248.89 L225.72 247.63 Q226.82 247.11 227.64 246.38 Q228.47 245.64 228.81 244.95 L229.65 244.95 Z" fill="#000" stroke="#000" stroke-width="0.25"/>
<path d="M90.5 269.74 H114.10" stroke="#007f3f" stroke-width="1.8" fill="none" stroke-dasharray="3.4 3.4"/>
<text transform="scale(1.12 1)" x="137.10 154.33 162.59 170.85" y="272.64" font-size="15" fill="#333" text-anchor="middle" font-family="Liberation Serif, serif" font-style="italic">q1.4</text>
<text transform="scale(1.45 1)" x="145.03" y="271.74" font-size="15" fill="#333" text-anchor="middle" font-family="Liberation Serif, serif" font-style="italic">γ</text>
<text x="164.25 220.35" y="273.04" font-size="14" fill="#5a5a5a" text-anchor="middle" font-family="Liberation Serif, serif" font-style="italic">==</text>
<path d="M200.85 269.64 L202.35 270.09 L198.35 274.24 L197.85 273.94 Z" fill="#333" stroke="#333" stroke-width="0.3" stroke-linejoin="round"/>
<path d="M229.65 272.24 L228.34 272.24 L228.34 263.90 Q227.87 264.35 227.10 264.80 Q226.33 265.25 225.72 265.47 L225.72 264.21 Q226.82 263.69 227.64 262.96 Q228.47 262.22 228.81 261.53 L229.65 261.53 Z" fill="#000" stroke="#000" stroke-width="0.25"/>
</svg>
</body></html>
